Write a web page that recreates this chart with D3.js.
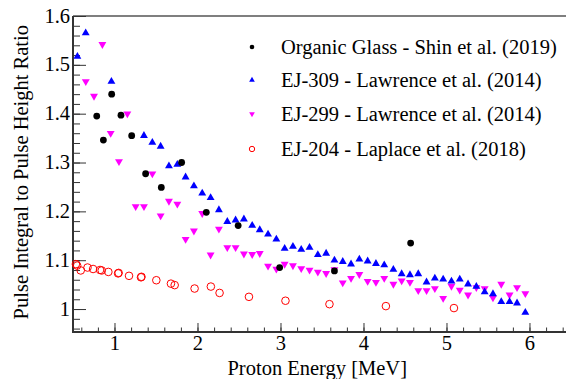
<!DOCTYPE html>
<html><head><meta charset="utf-8">
<script src="https://cdn.jsdelivr.net/npm/d3@7"></script>
<style>body{margin:0;background:#fff}svg{display:block}text{font-family:"Liberation Serif","Times New Roman",serif;fill:#000}</style>
</head><body><svg id="c" width="567" height="379"></svg>
<script>
const seriesNames = ["Organic Glass - Shin et al. (2019)","EJ-309 - Lawrence et al. (2014)","EJ-299 - Lawrence et al. (2014)","EJ-204 - Laplace et al. (2018)"];
const glassE = [0.786,0.866,0.966,1.078,1.207,1.375,1.564,1.809,2.106,2.49,2.99,3.65,4.568];
const glassR = [1.395,1.346,1.440,1.397,1.355,1.277,1.249,1.300,1.198,1.171,1.085,1.078,1.135];
const ej309E = [0.553,0.653,0.963,1.355,1.456,1.556,1.656,1.757,1.857,1.957,2.057,2.158,2.258,2.359,2.459,2.559,2.659,2.75,2.85,2.95,3.05,3.15,3.25,3.35,3.45,3.55,3.65,3.75,3.85,3.95,4.05,4.15,4.25,4.36,4.46,4.56,4.66,4.76,4.86,4.96,5.06,5.16,5.26,5.36,5.46,5.56,5.66,5.76,5.85,5.95];
const ej309R = [1.517,1.565,1.466,1.355,1.341,1.333,1.293,1.296,1.270,1.252,1.237,1.228,1.203,1.179,1.182,1.184,1.171,1.162,1.153,1.143,1.124,1.128,1.122,1.126,1.111,1.114,1.100,1.097,1.092,1.102,1.098,1.093,1.090,1.081,1.072,1.070,1.072,1.055,1.063,1.061,1.057,1.061,1.051,1.046,1.035,1.031,1.015,1.015,1.012,0.993];
const ej299E = [0.654,0.753,0.854,0.954,1.054,1.155,1.255,1.355,1.456,1.556,1.656,1.757,1.857,1.957,2.057,2.158,2.258,2.359,2.459,2.559,2.659,2.75,2.85,2.95,3.05,3.15,3.25,3.35,3.45,3.55,3.65,3.75,3.85,3.95,4.05,4.15,4.25,4.36,4.46,4.56,4.66,4.76,4.86,4.96,5.06,5.16,5.26,5.36,5.46,5.56,5.66,5.76,5.85,5.95];
const ej299R = [1.466,1.436,1.542,1.360,1.302,1.400,1.210,1.210,1.277,1.191,1.221,1.215,1.143,1.160,1.196,1.111,1.164,1.126,1.126,1.113,1.112,1.114,1.088,1.082,1.092,1.089,1.083,1.080,1.076,1.073,1.081,1.054,1.063,1.071,1.057,1.055,1.063,1.051,1.058,1.055,1.038,1.038,1.042,1.022,1.047,1.039,1.029,1.044,1.042,1.023,1.051,1.029,1.044,1.032];
const ej204E = [0.535,0.55,0.593,0.675,0.742,0.826,0.846,0.926,1.043,1.05,1.175,1.319,1.325,1.504,1.68,1.725,1.965,2.161,2.266,2.62,3.06,3.59,4.27,5.09];
const ej204R = [1.092,1.089,1.079,1.085,1.082,1.080,1.079,1.076,1.073,1.074,1.068,1.065,1.066,1.059,1.052,1.049,1.042,1.046,1.033,1.025,1.017,1.010,1.006,1.002];
const xTicks = [1,2,3,4,5,6];
const yTicks = [1,1.1,1.2,1.3,1.4,1.5,1.6];
const xLabel = "Proton Energy [MeV]";
const yLabel = "Pulse Integral to Pulse Height Ratio";

const FS = 20.5;
const svg = d3.select("#c");
const L=73,R=566,T=16,B=332;
const x = d3.scaleLinear().domain([0.5,6.44]).range([L,R]);
const y = d3.scaleLinear().domain([0.953,1.6]).range([B,T]);
const axc="#333";

svg.append("line").attr("x1",L).attr("x2",R).attr("y1",T).attr("y2",T).attr("stroke","#555").attr("stroke-width",1.5);
const xa = svg.append("g").attr("transform",`translate(0,${B})`);
xa.call(d3.axisBottom(x).tickValues(d3.range(0.6,6.45,0.2).map(v=>+v.toFixed(1))).tickSize(-4.5).tickFormat("")).call(g=>{g.select(".domain").remove();g.selectAll("line").attr("stroke",axc)});
const xb = svg.append("g").attr("transform",`translate(0,${B})`);
xb.call(d3.axisBottom(x).tickValues(xTicks).tickSize(-9).tickFormat(d3.format("d")).tickPadding(3)).call(g=>{g.select(".domain").remove();g.selectAll("line").attr("stroke",axc);g.selectAll("text").attr("font-size",FS).attr("font-family","Liberation Serif").attr("fill","#000")});
svg.append("line").attr("x1",L).attr("x2",R).attr("y1",B).attr("y2",B).attr("stroke",axc).attr("stroke-width",2);
const ya = svg.append("g").attr("transform",`translate(${L},0)`);
ya.call(d3.axisLeft(y).tickValues(d3.range(0.96,1.601,0.02).map(v=>+v.toFixed(2))).tickSize(-7).tickFormat("")).call(g=>{g.select(".domain").remove();g.selectAll("line").attr("stroke",axc)});
const yb = svg.append("g").attr("transform",`translate(${L},0)`);
yb.call(d3.axisLeft(y).tickValues(yTicks).tickSize(-13).tickFormat(d=>d===1?"1":d3.format(".1f")(d)).tickPadding(3)).call(g=>{g.select(".domain").remove();g.selectAll("line").attr("stroke",axc);g.selectAll("text").attr("font-size",FS).attr("font-family","Liberation Serif").attr("fill","#000").attr("dy","0.3em")});
svg.append("line").attr("x1",L).attr("x2",L).attr("y1",T).attr("y2",B+1).attr("stroke",axc).attr("stroke-width",2);

svg.append("text").attr("x",R-159).attr("y",375).attr("text-anchor","end").attr("font-size",FS).text(xLabel);
svg.append("text").attr("transform",`translate(28,${T+9}) rotate(-90)`).attr("text-anchor","end").attr("font-size",FS).text(yLabel);

const g = svg.append("g");
function tri(s){return d3.symbol().type(d3.symbolTriangle).size(s)();}
g.selectAll(".r").data(ej204E.map((e,i)=>[e,ej204R[i]])).join("circle").attr("cx",d=>x(d[0])).attr("cy",d=>y(d[1])).attr("r",3.8).attr("fill","none").attr("stroke","#ff0000").attr("stroke-width",1);
g.selectAll(".m").data(ej299E.map((e,i)=>[e,ej299R[i]])).join("path").attr("d",tri(27)).attr("transform",d=>`translate(${x(d[0])},${y(d[1])}) rotate(180)`).attr("fill","#ff00ff");
g.selectAll(".b").data(ej309E.map((e,i)=>[e,ej309R[i]])).join("path").attr("d",tri(27)).attr("transform",d=>`translate(${x(d[0])},${y(d[1])})`).attr("fill","#0000ff");
g.selectAll(".k").data(glassE.map((e,i)=>[e,glassR[i]])).join("circle").attr("cx",d=>x(d[0])).attr("cy",d=>y(d[1])).attr("r",3.4).attr("fill","#000");

const ly=[47,80,114,149];
const lg = svg.append("g");
lg.append("circle").attr("cx",252).attr("cy",ly[0]).attr("r",2.3).attr("fill","#000");
lg.append("path").attr("d",tri(14)).attr("transform",`translate(252,${ly[1]})`).attr("fill","#0000ff");
lg.append("path").attr("d",tri(14)).attr("transform",`translate(252,${ly[2]}) rotate(180)`).attr("fill","#ff00ff");
lg.append("circle").attr("cx",252).attr("cy",ly[3]).attr("r",2.7).attr("fill","none").attr("stroke","#ff0000").attr("stroke-width",1);
seriesNames.forEach((n,i)=>lg.append("text").attr("x",281).attr("y",ly[i]+7).attr("font-size",FS).text(n));
</script></body></html>
